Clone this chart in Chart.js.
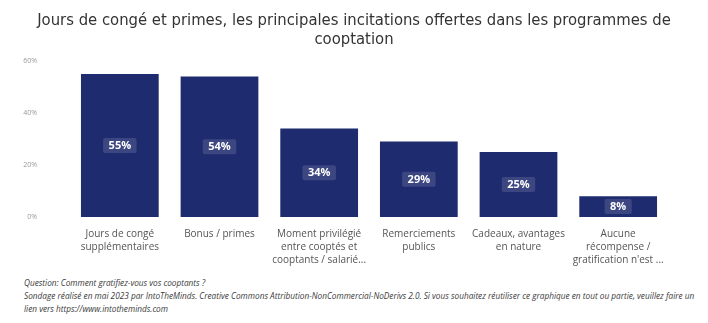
<!DOCTYPE html>
<html>
<head>
<meta charset="utf-8">
<script src="https://cdn.jsdelivr.net/npm/chart.js@4"></script>
<style>
    body { margin: 0; background: #fff; }
    #wrap { position: absolute; left: 0; top: 0; width: 708px; height: 270px; }
    #note { position: absolute; left: 24px; top: 276px; width: 684px; font: italic 8.25px "Open Sans", sans-serif; color: #3a3a3a; line-height: 13px; }
</style>
</head>
<body>
<div id="wrap"><canvas id="chart"></canvas></div>
<div id="note">Question: Comment gratifiez-vous vos cooptants ?<br>Sondage réalisé en mai 2023 par IntoTheMinds. Creative Commons Attribution-NonCommercial-NoDerivs 2.0. Si vous souhaitez réutiliser ce graphique en tout ou partie, veuillez faire un lien vers https://www.intotheminds.com</div>
<script>
"use strict"

// categories (wrapped the way the original shows them)
const categories = [
    ["Jours de congé", "supplémentaires"],
    ["Bonus / primes"],
    ["Moment privilégié", "entre cooptés et", "cooptants / salarié..."],
    ["Remerciements", "publics"],
    ["Cadeaux, avantages", "en nature"],
    ["Aucune", "récompense /", "gratification n'est ..."]
];
const shares = [55, 54, 34, 29, 25, 8];
const yTicks = [0, 20, 40, 60];

// draws the "55%" boxes in the middle of each bar
const valueBoxes = {
    id: "valueBoxes",
    afterDatasetsDraw(chart) {
        const ctx = chart.ctx;
        const meta = chart.getDatasetMeta(0);
        ctx.save();
        ctx.font = "bold 11px 'Open Sans', sans-serif";
        ctx.textAlign = "center";
        ctx.textBaseline = "middle";
        meta.data.forEach((bar, i) => {
            const txt = shares[i] + "%";
            const y = (bar.y + bar.base) / 2;
            const w = ctx.measureText(txt).width + 11;
            const h = 15;
            ctx.fillStyle = "rgba(255,255,255,0.13)";
            ctx.beginPath();
            ctx.roundRect(bar.x - w / 2, y - h / 2, w, h, 2);
            ctx.fill();
            ctx.fillStyle = "#fff";
            ctx.fillText(txt, bar.x, y + 0.5);
        });
        ctx.restore();
    }
};

const ctx = document.getElementById("chart");
new Chart(ctx, {
    type: "bar",
    data: {
        labels: categories,
        datasets: [{
            data: shares,
            backgroundColor: "#1f2b6f",
            borderWidth: 0,
            barPercentage: 0.78,
            categoryPercentage: 1
        }]
    },
    options: {
        responsive: true,
        maintainAspectRatio: false,
        animation: false,
        layout: { padding: { left: 0, right: 40, top: 0, bottom: 0 } },
        plugins: {
            legend: { display: false },
            tooltip: { enabled: false },
            title: {
                display: true,
                text: ["Jours de congé et primes, les principales incitations offertes dans les programmes de", "cooptation"],
                color: "#333",
                align: "center",
                font: { family: "'DejaVu Sans Condensed', 'DejaVu Sans', sans-serif", size: 16.5, weight: "normal", lineHeight: 1.18 },
                padding: { top: 11, bottom: 11 }
            }
        },
        scales: {
            x: {
                grid: { display: false },
                border: { display: false },
                ticks: {
                    color: "#555",
                    font: { family: "'Open Sans', sans-serif", size: 10, lineHeight: 1.3 },
                    maxRotation: 0,
                    autoSkip: false,
                    padding: 3
                }
            },
            y: {
                min: 0,
                max: 60,
                afterBuildTicks: axis => { axis.ticks = yTicks.map(v => ({ value: v })); },
                afterFit: axis => { axis.width = 70; },
                grid: { display: false, drawTicks: false },
                border: { display: false },
                ticks: {
                    color: "#999",
                    font: { family: "'Open Sans', sans-serif", size: 7 },
                    padding: 33,
                    callback: v => v + "%"
                }
            }
        }
    },
    plugins: [valueBoxes, {
        // keep the title centred on the whole canvas, not on the padded box
        id: "centreTitle",
        afterLayout(chart) {
            const t = chart.titleBlock;
            if (t) { t.left = 0; t.right = chart.width; t.width = chart.width; }
        }
    }]
});
</script>
</body>
</html>
